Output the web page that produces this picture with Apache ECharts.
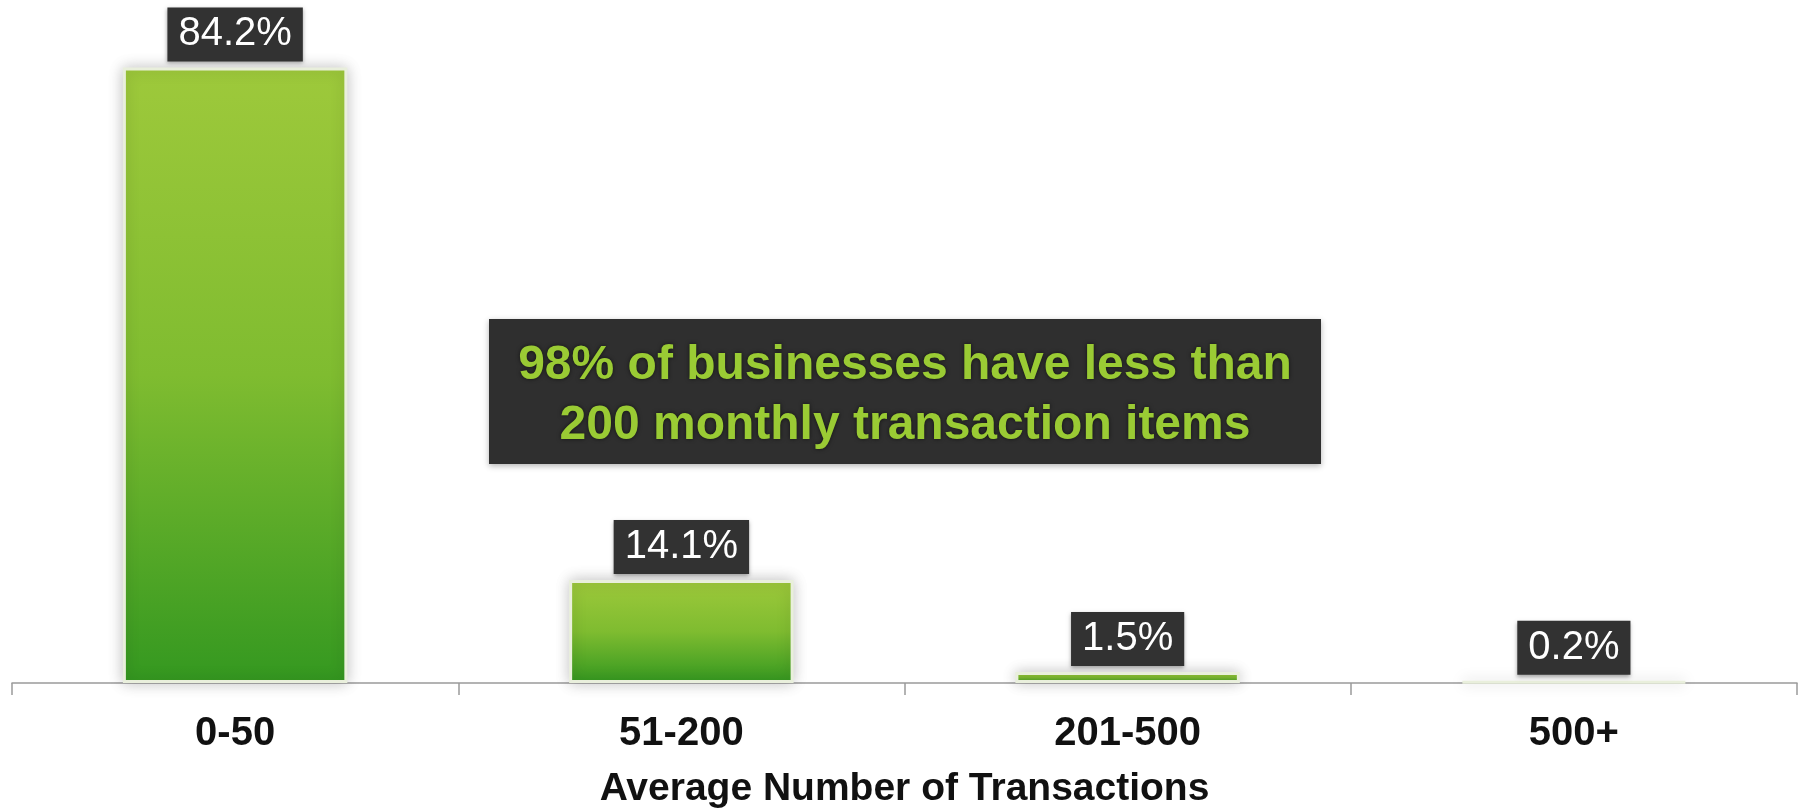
<!DOCTYPE html>
<html>
<head>
<meta charset="utf-8">
<script src="https://cdn.jsdelivr.net/npm/echarts@6/dist/echarts.min.js"></script>
<style>
html,body{margin:0;padding:0;background:#fff;}
#chart{width:1804px;height:808px;}
</style>
</head>
<body>
<div id="chart"></div>
<script>
// ---- data ----
const categories = ['0-50', '51-200', '201-500', '500+'];
const shares = [84.2, 14.1, 1.5, 0.2];
const axisTitle = 'Average Number of Transactions';
const noteLines = ['98% of businesses have less than', '200 monthly transaction items'];

const chart = echarts.init(document.getElementById('chart'));
const FONT = "'Liberation Sans', Arial, sans-serif";
const NARROW = "'Liberation Sans Narrow', 'Arial Narrow', 'Liberation Sans', sans-serif";

chart.setOption({
  backgroundColor: '#ffffff',
  animation: false,
  grid: { left: 12, right: 7, top: 25, bottom: 125, containLabel: false, outerBoundsMode: 'none' },
  xAxis: {
    type: 'category',
    data: categories,
    axisLine: { lineStyle: { color: '#9a9a9a', width: 1.5 } },
    axisTick: { show: true, length: 12, lineStyle: { color: '#9a9a9a', width: 1.5 } },
    axisLabel: { color: '#111', fontFamily: FONT, fontWeight: 'bold', fontSize: 40, margin: 31 },
    name: axisTitle,
    nameLocation: 'middle',
    nameGap: 87,
    nameTextStyle: { color: '#111', fontFamily: FONT, fontWeight: 'bold', fontSize: 39 }
  },
  yAxis: {
    type: 'value', min: 0, max: 90, show: false,
    splitLine: { show: false }
  },
  series: [{
    type: 'bar',
    data: shares,
    barWidth: '50.3%',
    itemStyle: {
      color: new echarts.graphic.LinearGradient(0, 0, 0, 1, [
        { offset: 0, color: '#9ec93b' },
        { offset: 0.5, color: '#7fbc30' },
        { offset: 1, color: '#349820' }
      ]),
      borderColor: '#e9efdc',
      borderWidth: 3,
      shadowBlur: 14,
      shadowColor: 'rgba(0,0,0,0.22)'
    },
    label: {
      show: true,
      position: 'top',
      distance: 6,
      formatter: p => p.value.toFixed(1) + '%',
      color: '#ffffff',
      fontFamily: NARROW,
      fontSize: 40,
      lineHeight: 40,
      backgroundColor: '#323232',
      padding: [7, 11, 7, 11],
      shadowBlur: 4,
      shadowColor: 'rgba(0,0,0,0.35)',
      shadowOffsetY: 2
    }
  }],
  graphic: [{
    type: 'group',
    left: 489,
    top: 319,
    children: [{
      type: 'rect',
      shape: { x: 0, y: 0, width: 832, height: 145 },
      style: { fill: '#2f2f2f', shadowBlur: 6, shadowColor: 'rgba(0,0,0,0.3)', shadowOffsetY: 2 }
    }, {
      type: 'text',
      x: 416, y: 77,
      style: {
        text: noteLines.join('\n'),
        fill: '#9acb34',
        font: "bold 48px " + FONT,
        lineHeight: 60,
        align: 'center',
        verticalAlign: 'middle',
        textShadowBlur: 4,
        textShadowColor: 'rgba(0,0,0,0.6)'
      }
    }]
  }]
});
</script>
</body>
</html>
